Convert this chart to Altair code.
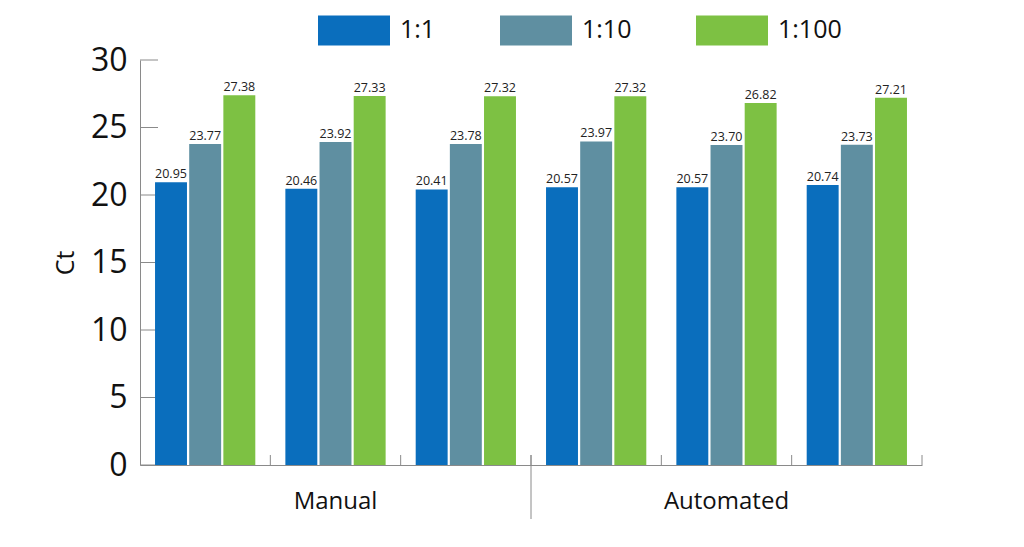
import altair as alt
import pandas as pd

groups = ["M1", "M2", "M3", "A1", "A2", "A3"]
series = ["1:1", "1:10", "1:100"]
v_11 = [20.95, 20.46, 20.41, 20.57, 20.57, 20.74]
v_110 = [23.77, 23.92, 23.78, 23.97, 23.70, 23.73]
v_1100 = [27.38, 27.33, 27.32, 27.32, 26.82, 27.21]
colors = ["#0A6EBD", "#5F8FA1", "#7DC143"]
yticks = [0, 5, 10, 15, 20, 25, 30]
section_groups = ["M2", "A2"]
section_labels = ["Manual", "Automated"]

rows = []
for i, g in enumerate(groups):
    for s, vals in zip(series, [v_11, v_110, v_1100]):
        rows.append({"g": g, "s": s, "v": vals[i]})
df = pd.DataFrame(rows)

FONT = "Open Sans"
W, H = 782, 405

xscale = alt.Scale(domain=groups, paddingInner=0, paddingOuter=0)
yscale = alt.Scale(domain=[0, 30], nice=False)

base = alt.Chart(df)

ytick_layer = alt.Chart(pd.DataFrame({"t": yticks})).mark_rule(
    color="#8a8a8a", strokeWidth=1
).encode(
    y=alt.Y("t:Q", scale=yscale),
    x=alt.value(0),
    x2=alt.value(18),
)

bars = base.mark_bar().encode(
    x=alt.X("g:N", scale=xscale, sort=groups,
            axis=alt.Axis(labels=False, ticks=False, title=None, grid=False,
                          domainColor="#8a8a8a", domainWidth=1)),
    xOffset=alt.XOffset("s:N", sort=series,
                        scale=alt.Scale(paddingInner=0.065, paddingOuter=0.44)),
    y=alt.Y("v:Q", scale=yscale,
            axis=alt.Axis(values=yticks, ticks=False, grid=False,
                          domainColor="#8a8a8a", domainWidth=1,
                          labelFont=FONT, labelFontSize=32, labelColor="#111111",
                          labelPadding=13, title="Ct", titleFont=FONT,
                          titleFontSize=25, titleFontWeight="normal",
                          titleColor="#111111", titlePadding=12)),
    color=alt.Color("s:N", sort=series,
                    scale=alt.Scale(domain=series, range=colors),
                    legend=alt.Legend(
                        title=None, orient="none", direction="horizontal",
                        legendX=178, legendY=-66,
                        symbolType="M-1,-0.4167L1,-0.4167L1,0.4167L-1,0.4167Z",
                        symbolSize=5184, symbolStrokeWidth=0, symbolOpacity=1,
                        labelFont=FONT, labelFontSize=25, labelColor="#111111",
                        labelOffset=10, columnPadding=64)),
)

labels = base.mark_text(dy=-8, font=FONT, fontSize=12.5, color="#222222").encode(
    x=alt.X("g:N", scale=xscale, sort=groups),
    xOffset=alt.XOffset("s:N", sort=series),
    y=alt.Y("v:Q", scale=yscale),
    text=alt.Text("v:Q", format=".2f"),
)

tick_df = pd.DataFrame({"g": groups})
xticks = alt.Chart(tick_df).mark_rule(color="#8a8a8a", strokeWidth=1).encode(
    x=alt.X("g:N", scale=xscale, sort=groups, bandPosition=1),
    y=alt.value(H - 10),
    y2=alt.value(H),
)

divider = alt.Chart(pd.DataFrame({"g": ["M3"]})).mark_rule(
    color="#8a8a8a", strokeWidth=1
).encode(
    x=alt.X("g:N", scale=xscale, sort=groups, bandPosition=1),
    y=alt.value(H - 10),
    y2=alt.value(H + 54),
)

sections = alt.Chart(pd.DataFrame({"g": section_groups, "lab": section_labels})).mark_text(
    font=FONT, fontSize=24, color="#111111", baseline="middle"
).encode(
    x=alt.X("g:N", scale=xscale, sort=groups, bandPosition=0.5),
    y=alt.value(H + 37),
    text="lab:N",
)

chart = alt.layer(ytick_layer, bars, labels, xticks, divider, sections).properties(
    width=W, height=H,
    autosize=alt.AutoSizeParams(type="none"),
    padding={"left": 132, "top": 52, "right": 80, "bottom": 70},
).configure(font=FONT).configure_view(stroke="transparent", strokeWidth=0)

chart.save("out.html", embed_options={"renderer": "svg", "actions": False})
